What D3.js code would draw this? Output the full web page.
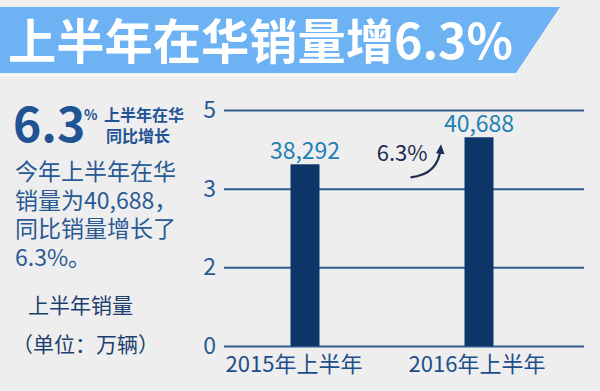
<!DOCTYPE html>
<html>
<head>
<meta charset="utf-8">
<script src="https://cdn.jsdelivr.net/npm/d3@7"></script>
<style>
    body { margin: 0; background: #eeeeee; }
    svg { display: block; font-family: "Noto Sans CJK SC", "Noto Sans", sans-serif; }
</style>
</head>
<body>
<svg id="chart" width="600" height="391"></svg>
<script>
(() => {
    'use strict';

    // chart data
    const categories = ['2015年上半年', '2016年上半年'];
    const sales = [38292, 40688];
    const salesLabels = ['38,292', '40,688'];
    const tickLabels = ['0', '2', '3', '5'];
    const growthLabel = '6.3%';

    const title = '上半年在华销量增6.3%';
    const bigNumber = '6.3';
    const sideNote = ['上半年在华', '同比增长'];
    const paragraph = ['今年上半年在华', '销量为40,688，', '同比销量增长了', '6.3%。'];
    const unitLines = ['上半年销量', '（单位：万辆）'];

    const svg = d3.select('#chart');

    const navy = '#0c3568',
          textBlue = '#2a5a93',
          valueBlue = '#2180b5';

    // title banner
    svg.append('path')
        .attr('d', 'M0,7 L560,7 L516,73 L0,73 Z')
        .attr('fill', '#6db3f4');
    svg.append('line')
        .attr('x1', 0).attr('x2', 515)
        .attr('y1', 75).attr('y2', 75)
        .attr('stroke', '#f8f8f8')
        .attr('stroke-width', 2);
    svg.append('text')
        .attr('x', 8)
        .attr('y', 59)
        .attr('fill', '#fff')
        .attr('font-size', 48)
        .attr('font-weight', 700)
        .attr('textLength', 505)
        .attr('lengthAdjust', 'spacingAndGlyphs')
        .text(title);

    // left panel
    svg.append('text')
        .attr('x', 13).attr('y', 142)
        .attr('fill', '#1f5394')
        .attr('font-size', 48)
        .attr('font-weight', 700)
        .text(bigNumber);
    svg.append('text')
        .attr('x', 84).attr('y', 120)
        .attr('fill', '#1f5394')
        .attr('font-size', 14)
        .attr('font-weight', 700)
        .text('%');
    svg.selectAll('.side-note')
        .data(sideNote)
        .enter()
        .append('text')
        .attr('class', 'side-note')
        .attr('x', (d, i) => i === 0 ? 104 : 106)
        .attr('y', (d, i) => 121 + i * 21)
        .attr('fill', '#1f5394')
        .attr('font-size', 16)
        .attr('font-weight', 700)
        .text(d => d);

    svg.selectAll('.para')
        .data(paragraph)
        .enter()
        .append('text')
        .attr('class', 'para')
        .attr('x', 15)
        .attr('y', (d, i) => 180 + i * 28.5)
        .attr('fill', textBlue)
        .attr('font-size', 23)
        .text(d => d);

    svg.selectAll('.unit')
        .data(unitLines)
        .enter()
        .append('text')
        .attr('class', 'unit')
        .attr('x', (d, i) => i === 0 ? 28 : 12)
        .attr('y', (d, i) => 313 + i * 39)
        .attr('fill', '#1d3f6e')
        .attr('font-size', 21)
        .text(d => d);

    // chart area
    const gridLeft = 224,
          gridRight = 584,
          baseY = 346,
          topY = 110,
          barWidth = 29;

    const xScale = d3.scalePoint()
        .domain(categories)
        .range([218, 566])
        .padding(0.5);

    // tick labels are evenly spaced in the original graphic
    const tickScale = d3.scalePoint()
        .domain(tickLabels)
        .range([baseY, topY]);

    // bar scale fitted to the drawn bar heights
    const yScale = d3.scaleLinear()
        .domain([22170, 43110])
        .range([baseY, topY]);

    const yAxis = d3.axisLeft(tickScale)
        .tickSize(-(gridRight - gridLeft))
        .tickPadding(8);

    const axisG = svg.append('g')
        .attr('transform', 'translate(' + gridLeft + ',0)')
        .call(yAxis);
    axisG.select('.domain').remove();
    axisG.selectAll('.tick line')
        .attr('stroke', '#2f5c8c')
        .attr('stroke-width', 2);
    axisG.selectAll('.tick text')
        .attr('fill', textBlue)
        .attr('font-size', 23)
        .attr('font-family', '"Noto Sans CJK SC", sans-serif');

    const data = categories.map((c, i) => ({ cat: c, value: sales[i], label: salesLabels[i] }));

    svg.selectAll('.bar')
        .data(data)
        .enter()
        .append('rect')
        .attr('class', 'bar')
        .attr('fill', navy)
        .attr('x', d => xScale(d.cat) - barWidth / 2)
        .attr('width', barWidth)
        .attr('y', d => yScale(d.value))
        .attr('height', d => baseY - yScale(d.value));

    svg.selectAll('.value')
        .data(data)
        .enter()
        .append('text')
        .attr('class', 'value')
        .attr('x', d => xScale(d.cat))
        .attr('y', d => yScale(d.value) - 5)
        .attr('text-anchor', 'middle')
        .attr('fill', valueBlue)
        .attr('font-size', 23)
        .text(d => d.label);

    svg.selectAll('.cat')
        .data(categories)
        .enter()
        .append('text')
        .attr('class', 'cat')
        .attr('x', (d, i) => xScale(d) - (i === 0 ? 11 : 2))
        .attr('y', 372)
        .attr('text-anchor', 'middle')
        .attr('fill', '#1f4f8a')
        .attr('font-size', 22)
        .text(d => d);

    // growth annotation next to second bar
    const last = data[data.length - 1],
          barLeft = xScale(last.cat) - barWidth / 2,
          tipX = barLeft - 24,
          tipY = yScale(last.value) + 9;

    svg.append('text')
        .attr('x', tipX - 13)
        .attr('y', tipY + 15)
        .attr('text-anchor', 'end')
        .attr('fill', '#1b2d55')
        .attr('font-size', 22)
        .text(growthLabel);

    svg.append('path')
        .attr('d', 'M' + (tipX - 30) + ',' + (tipY + 31) +
                   ' Q' + (tipX - 2) + ',' + (tipY + 28) + ' ' + tipX + ',' + (tipY + 2))
        .attr('fill', 'none')
        .attr('stroke', '#1b2d55')
        .attr('stroke-width', 2.2);
    svg.append('path')
        .attr('d', 'M' + (tipX - 4.5) + ',' + (tipY + 7) + ' L' + (tipX + 0.5) + ',' + (tipY - 2) +
                   ' L' + (tipX + 4) + ',' + (tipY + 8) + ' Z')
        .attr('fill', '#1b2d55');
})();
</script>
</body>
</html>
